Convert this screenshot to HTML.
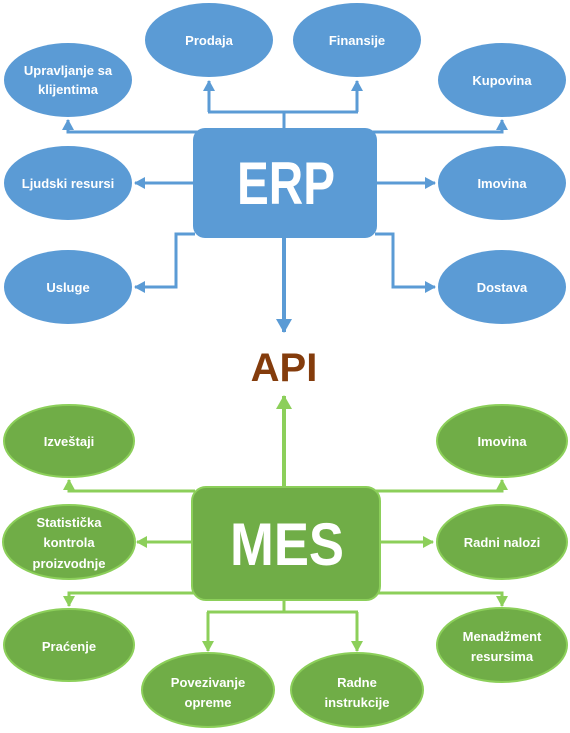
<!DOCTYPE html>
<html><head><meta charset="utf-8"><style>
html,body{margin:0;padding:0;background:#fff;width:570px;height:733px;overflow:hidden}
svg text{font-family:"Liberation Sans",sans-serif;font-weight:bold;fill:#fff;text-anchor:middle}
</style></head><body>
<svg width="570" height="733" viewBox="0 0 570 733" xmlns="http://www.w3.org/2000/svg">
<defs>
<marker id="ab" markerWidth="12" markerHeight="12" refX="10" refY="6" orient="auto" markerUnits="userSpaceOnUse"><path d="M0,0 L11,6 L0,12 Z" fill="#5B9BD5"/></marker>
<marker id="abL" markerWidth="16" markerHeight="16" refX="13" refY="8" orient="auto" markerUnits="userSpaceOnUse"><path d="M0,0 L14,8 L0,16 Z" fill="#5B9BD5"/></marker>
<marker id="ag" markerWidth="12" markerHeight="12" refX="10" refY="6" orient="auto" markerUnits="userSpaceOnUse"><path d="M0,0 L11,6 L0,12 Z" fill="#8CCF5A"/></marker>
<marker id="agL" markerWidth="16" markerHeight="16" refX="13" refY="8" orient="auto" markerUnits="userSpaceOnUse"><path d="M0,0 L14,8 L0,16 Z" fill="#8CCF5A"/></marker>
</defs>
<g stroke="#5B9BD5" stroke-width="3" fill="none">
<polyline points="200,132 68,132 68,120" marker-end="url(#ab)"/>
<polyline points="370,132 502,132 502,120" marker-end="url(#ab)"/>
<polyline points="284,128 284,112"/>
<polyline points="209,112 209,81" marker-end="url(#ab)"/>
<polyline points="357,112 357,81" marker-end="url(#ab)"/>
<polyline points="208,112 358,112"/>
<polyline points="193,183 135,183" marker-end="url(#ab)"/>
<polyline points="377,183 435,183" marker-end="url(#ab)"/>
<polyline points="195,234 176,234 176,287 135,287" marker-end="url(#ab)"/>
<polyline points="375,234 393,234 393,287 435,287" marker-end="url(#ab)"/>
<polyline points="284,238 284,332" stroke-width="4" marker-end="url(#abL)"/>
</g>
<g fill="#5B9BD5">
<ellipse cx="209" cy="40" rx="64" ry="37"/>
<ellipse cx="357" cy="40" rx="64" ry="37"/>
<ellipse cx="68" cy="80" rx="64" ry="37"/>
<ellipse cx="502" cy="80" rx="64" ry="37"/>
<ellipse cx="68" cy="183" rx="64" ry="37"/>
<ellipse cx="502" cy="183" rx="64" ry="37"/>
<ellipse cx="68" cy="287" rx="64" ry="37"/>
<ellipse cx="502" cy="287" rx="64" ry="37"/>
<rect x="193" y="128" width="184" height="110" rx="12"/>
</g>
<g font-size="13">
<text x="209" y="45">Prodaja</text>
<text x="357" y="45">Finansije</text>
<text x="68" y="75">Upravljanje sa</text>
<text x="68" y="94">klijentima</text>
<text x="502" y="85">Kupovina</text>
<text x="68" y="188">Ljudski resursi</text>
<text x="502" y="188">Imovina</text>
<text x="68" y="292">Usluge</text>
<text x="502" y="292">Dostava</text>
</g>
<text x="286" y="204" font-size="60" textLength="98" lengthAdjust="spacingAndGlyphs">ERP</text>
<text x="284" y="381" font-size="40" style="fill:#843C0C">API</text>
<g stroke="#8CCF5A" stroke-width="3" fill="none">
<polyline points="284,487 284,396" stroke-width="4" marker-end="url(#agL)"/>
<polyline points="195,491 69,491 69,480" marker-end="url(#ag)"/>
<polyline points="375,491 502,491 502,480" marker-end="url(#ag)"/>
<polyline points="191,542 137,542" marker-end="url(#ag)"/>
<polyline points="380,542 433,542" marker-end="url(#ag)"/>
<polyline points="195,593 69,593 69,606" marker-end="url(#ag)"/>
<polyline points="375,593 502,593 502,606" marker-end="url(#ag)"/>
<polyline points="284,600 284,612"/>
<polyline points="207,612 358,612"/>
<polyline points="208,612 208,651" marker-end="url(#ag)"/>
<polyline points="357,612 357,651" marker-end="url(#ag)"/>
</g>
<g fill="#70AD47" stroke="#8CCF5A" stroke-width="2">
<ellipse cx="69" cy="441" rx="65" ry="36"/>
<ellipse cx="502" cy="441" rx="65" ry="36"/>
<ellipse cx="69" cy="542" rx="66" ry="37"/>
<ellipse cx="502" cy="542" rx="65" ry="37"/>
<ellipse cx="69" cy="645" rx="65" ry="36"/>
<ellipse cx="502" cy="645" rx="65" ry="37"/>
<ellipse cx="208" cy="690" rx="66" ry="37"/>
<ellipse cx="357" cy="690" rx="66" ry="37"/>
<rect x="192" y="487" width="188" height="113" rx="14"/>
</g>
<g font-size="13">
<text x="69" y="446">Izveštaji</text>
<text x="502" y="446">Imovina</text>
<text x="69" y="527">Statistička</text>
<text x="69" y="547">kontrola</text>
<text x="69" y="568">proizvodnje</text>
<text x="502" y="547">Radni nalozi</text>
<text x="69" y="651">Praćenje</text>
<text x="502" y="641">Menadžment</text>
<text x="502" y="661">resursima</text>
<text x="208" y="687">Povezivanje</text>
<text x="208" y="707">opreme</text>
<text x="357" y="687">Radne</text>
<text x="357" y="707">instrukcije</text>
</g>
<text x="287" y="565" font-size="60" textLength="114" lengthAdjust="spacingAndGlyphs">MES</text>
</svg>
</body></html>
